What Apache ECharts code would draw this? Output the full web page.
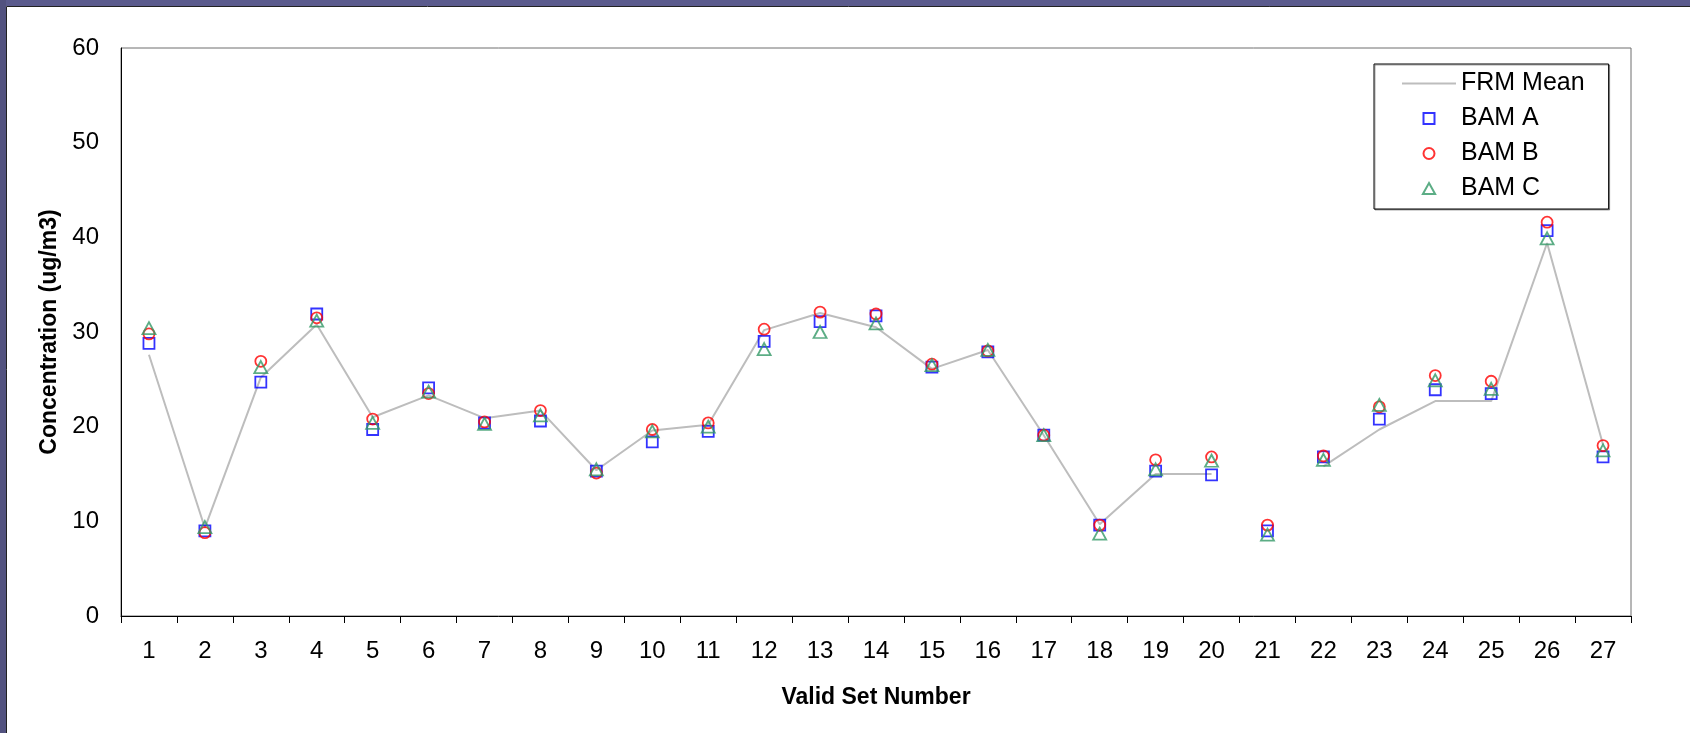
<!DOCTYPE html>
<html>
<head>
<meta charset="utf-8">
<style>
  html, body { margin: 0; padding: 0; background: #ffffff; }
  #chart { width: 1690px; height: 733px; }
</style>
<script src="https://cdn.jsdelivr.net/npm/echarts@6/dist/echarts.min.js"></script>
</head>
<body>
<div id="chart"></div>
<script>
// Valid sample sets 1..27
const setNumbers = ['1','2','3','4','5','6','7','8','9','10','11','12','13','14','15','16','17','18','19','20','21','22','23','24','25','26','27'];

// FRM reference mean (set 21 has no valid FRM mean)
const frmMean = [27.6, 9.3, 25.2, 30.8, 21.0, 23.3, 20.9, 21.7, 15.4, 19.6, 20.2, 30.2, 32.0, 30.5, 26.1, 28.1, 19.1, 9.7, 15.0, 15.0, null, 15.8, 19.7, 22.7, 22.7, 39.4, 18.1];

// BAM monitor concentrations (ug/m3)
const bamA = [28.8, 9.0, 24.7, 31.9, 19.7, 24.1, 20.4, 20.6, 15.3, 18.4, 19.5, 29.0, 31.1, 31.7, 26.3, 27.9, 19.1, 9.6, 15.3, 14.9, 9.0, 16.8, 20.8, 23.9, 23.5, 40.7, 16.8];
const bamB = [29.8, 8.8, 26.9, 31.5, 20.8, 23.5, 20.5, 21.7, 15.1, 19.7, 20.4, 30.3, 32.1, 31.9, 26.6, 28.0, 19.1, 9.6, 16.5, 16.8, 9.6, 16.9, 22.1, 25.4, 24.8, 41.6, 18.0];
const bamC = [30.4, 9.4, 26.3, 31.2, 20.4, 23.7, 20.3, 21.2, 15.5, 19.5, 20.0, 28.2, 30.0, 30.9, 26.5, 28.1, 19.1, 8.7, 15.5, 16.4, 8.6, 16.5, 22.3, 24.9, 24.0, 39.9, 17.5];

const yTicks = { min: 0, max: 60, interval: 10 };

const FONT = '"Liberation Sans", Arial, sans-serif';
const FRAME = '#5b5b8d';
const LINE_GREY = '#bdbdbd';

// hollow marker shapes, also used for the legend keys
const SQUARE = 'path://M0,0 L10,0 L10,10 L0,10 Z';
const TRIANGLE = 'path://M5,0 L10,9 L0,9 Z';
const DASH = 'path://M0,0 L54,0 L54,2 L0,2 Z';

const chart = echarts.init(document.getElementById('chart'), null, { renderer: 'canvas' });

function hollow(color) {
  return { color: 'rgba(0,0,0,0)', borderColor: color, borderWidth: 1.8 };
}

chart.setOption({
  backgroundColor: '#ffffff',
  animation: false,
  textStyle: { fontFamily: FONT, color: '#000' },
  graphic: [
    // slide frame along the top and left edges
    { type: 'rect', left: 0, top: 0, shape: { width: 1690, height: 6 }, style: { fill: FRAME }, z: 100 },
    { type: 'rect', left: 0, top: 0, shape: { width: 6, height: 733 }, style: { fill: '#52527f' }, z: 100 },
    { type: 'line', shape: { x1: 6.5, y1: 6.5, x2: 1690, y2: 6.5 }, style: { stroke: '#222', lineWidth: 1 }, z: 100 },
    { type: 'line', shape: { x1: 6.5, y1: 6.5, x2: 6.5, y2: 733 }, style: { stroke: '#222', lineWidth: 1 }, z: 100 }
  ],
  grid: {
    left: 121, right: 59, top: 48, bottom: 117,
    show: true, borderColor: '#6e6e6e', borderWidth: 1, backgroundColor: '#fff'
  },
  legend: {
    orient: 'vertical',
    left: 1374, top: 64,
    padding: [7, 24, 8, 28],
    itemWidth: 54, itemHeight: 11, itemGap: 10,
    symbolKeepAspect: true,
    borderColor: '#000', borderWidth: 1, backgroundColor: '#fff',
    shadowColor: 'rgba(0,0,0,0.35)', shadowOffsetX: 1, shadowOffsetY: 1, shadowBlur: 0,
    textStyle: { fontFamily: FONT, fontSize: 25, lineHeight: 25, color: '#000' },
    data: [
      { name: 'FRM Mean', icon: DASH, itemStyle: { color: LINE_GREY, borderWidth: 0 } },
      { name: 'BAM A', icon: SQUARE },
      { name: 'BAM B', icon: 'circle' },
      { name: 'BAM C', icon: TRIANGLE }
    ]
  },
  xAxis: {
    type: 'category',
    data: setNumbers,
    name: 'Valid Set Number',
    nameLocation: 'middle',
    nameGap: 70,
    nameTextStyle: { fontFamily: FONT, fontSize: 23, fontWeight: 'bold', color: '#000' },
    axisLine: { lineStyle: { color: '#000', width: 1 } },
    axisTick: { show: true, length: 7, inside: false, lineStyle: { color: '#000' } },
    axisLabel: { fontFamily: FONT, fontSize: 24, color: '#000', margin: 23 },
    splitLine: { show: false }
  },
  yAxis: {
    type: 'value',
    min: yTicks.min, max: yTicks.max, interval: yTicks.interval,
    name: 'Concentration (ug/m3)',
    nameLocation: 'middle',
    nameGap: 60,
    nameRotate: 90,
    nameTextStyle: { fontFamily: FONT, fontSize: 23, fontWeight: 'bold', color: '#000' },
    axisLine: { show: true, lineStyle: { color: '#000', width: 1 } },
    axisTick: { show: false },
    axisLabel: { fontFamily: FONT, fontSize: 24, color: '#000', margin: 22 },
    splitLine: { show: false }
  },
  series: [
    {
      name: 'FRM Mean', type: 'line', data: frmMean,
      showSymbol: false, symbol: 'none', connectNulls: false,
      lineStyle: { color: LINE_GREY, width: 2 },
      itemStyle: { color: LINE_GREY },
      z: 2
    },
    {
      name: 'BAM A', type: 'scatter', data: bamA,
      symbol: SQUARE, symbolSize: 11,
      itemStyle: hollow('#0000ff'), z: 3
    },
    {
      name: 'BAM B', type: 'scatter', data: bamB,
      symbol: 'circle', symbolSize: 11,
      itemStyle: hollow('#ff0000'), z: 4
    },
    {
      name: 'BAM C', type: 'scatter', data: bamC,
      symbol: TRIANGLE, symbolSize: [13, 12],
      itemStyle: hollow('#339966'), z: 5
    }
  ]
});
</script>
</body>
</html>
